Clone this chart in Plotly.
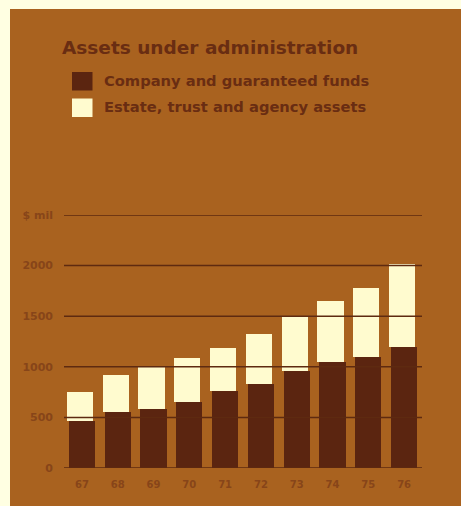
import plotly.graph_objects as go

# Assets under administration, $ millions
years = ["67", "68", "69", "70", "71", "72", "73", "74", "75", "76"]
company_funds = [460, 550, 585, 650, 760, 835, 960, 1050, 1100, 1200]
estate_assets = [290, 370, 415, 440, 430, 485, 540, 600, 680, 820]

tick_values = [0, 500, 1000, 1500, 2000, 2500]
tick_labels = ["0", "500", "1000", "1500", "2000", "$ mil"]

title_text = "Assets under administration"
series_names = ["Company and guaranteed funds", "Estate, trust and agency assets"]

W, H = 461, 506
ML, MR, MT, MB = 64, 39, 215, 38

page_bg = "#FFFFE2"
panel_bg = "#A9621F"
dark_bar = "#5B2510"
light_bar = "#FFFBCF"
text_dark = "#692D12"
text_axis = "#874519"
grid_col = "#5E2A10"
FONT = "DejaVu Sans"

BAR_W = 0.73

fig = go.Figure()
fig.add_trace(go.Bar(x=years, y=company_funds, name=series_names[0],
                     width=BAR_W, offset=-BAR_W / 2,
                     marker=dict(color=dark_bar, line=dict(width=0))))
# the pale tint is printed slightly out of register, a touch to the left
fig.add_trace(go.Bar(x=years, y=estate_assets, name=series_names[1],
                     width=BAR_W, offset=-BAR_W / 2 - 0.055,
                     marker=dict(color=light_bar, line=dict(width=0))))

pw = W - ML - MR
ph = H - MT - MB


def px_x(x):
    return (x - ML) / pw


def px_y(y):
    return (H - MB - y) / ph


shapes = [
    # pale page margin on the left and top of the brown panel
    dict(type="rect", xref="paper", yref="paper", layer="below",
         x0=px_x(-5), x1=px_x(10), y0=px_y(H + 5), y1=px_y(-5),
         fillcolor=page_bg, line=dict(width=0)),
    dict(type="rect", xref="paper", yref="paper", layer="below",
         x0=px_x(-5), x1=px_x(W + 5), y0=px_y(9), y1=px_y(-5),
         fillcolor=page_bg, line=dict(width=0)),
]
# horizontal rules drawn over the bars
for v in tick_values:
    shapes.append(dict(type="line", xref="paper", yref="y", layer="above",
                       x0=0, x1=1, y0=v, y1=v,
                       line=dict(color=grid_col, width=1.5)))

# legend swatches
swatch_colors = [dark_bar, light_bar]
swatch_tops = [72, 98.5]
for c, t in zip(swatch_colors, swatch_tops):
    shapes.append(dict(type="rect", xref="paper", yref="paper", layer="above",
                       x0=px_x(72), x1=px_x(92.5), y0=px_y(t + 18.5), y1=px_y(t),
                       fillcolor=c, line=dict(width=0)))

annotations = [
    dict(text=title_text, xref="paper", yref="paper", x=px_x(60), y=px_y(47),
         xanchor="left", yanchor="middle", showarrow=False,
         font=dict(family=FONT, size=18.5, color=text_dark, weight="bold")),
]
for name, yc in zip(series_names, [80.5, 106]):
    annotations.append(dict(text=name, xref="paper", yref="paper",
                            x=px_x(102), y=px_y(yc),
                            xanchor="left", yanchor="middle", showarrow=False,
                            font=dict(family=FONT, size=14.7, color=text_dark,
                                      weight="bold")))

fig.update_layout(
    width=W, height=H,
    margin=dict(l=ML, r=MR, t=MT, b=MB),
    paper_bgcolor=panel_bg,
    plot_bgcolor=panel_bg,
    barmode="stack",
    showlegend=False,
    shapes=shapes,
    annotations=annotations,
    xaxis=dict(showgrid=False, showline=False, zeroline=False,
               ticks="", ticklabelstandoff=9,
               tickfont=dict(family=FONT, size=10, color=text_axis, weight="bold")),
    yaxis=dict(range=[0, 2500], showgrid=False, showline=False, zeroline=False,
               tickvals=tick_values, ticktext=tick_labels,
               ticks="", ticklabelstandoff=10,
               tickfont=dict(family=FONT, size=11, color=text_axis, weight="bold")),
)

fig.write_html("out.html")
